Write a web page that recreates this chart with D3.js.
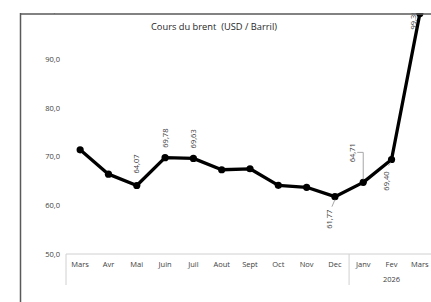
<!DOCTYPE html>
<html>
<head>
<meta charset="utf-8">
<script src="https://cdn.jsdelivr.net/npm/d3@7"></script>
<style>
  body { margin: 0; background: #fff; }
  svg { display: block; font-family: "Open Sans", sans-serif; }
</style>
</head>
<body>
<div id="chart"></div>
<script>
const months = ["Mars", "Avr", "Mai", "Juin", "Juil", "Aout", "Sept", "Oct", "Nov", "Dec", "Janv", "Fev", "Mars"];
const prices = [71.4, 66.4, 64.07, 69.78, 69.63, 67.3, 67.5, 64.1, 63.7, 61.77, 64.71, 69.40, 99.36];
const pointLabels = ["", "", "64,07", "69,78", "69,63", "", "", "", "", "61,77", "64,71", "69,40", "99,36"];
const yTicks = [50, 60, 70, 80, 90, 100];
const yearLabel = "2026";
const yearStart = 10;

const W = 431, H = 302;
const svg = d3.select("#chart").append("svg")
  .attr("width", W).attr("height", H);

svg.append("defs").append("clipPath").attr("id", "clip")
  .append("rect").attr("x", 21).attr("y", 13).attr("width", W).attr("height", H);

const g = svg.append("g").attr("clip-path", "url(#clip)");

const x = d3.scaleBand().domain(d3.range(months.length)).range([66, 434]);
const y = d3.scaleLinear().domain([50, 100]).range([254, 10.5]);
const cx = i => x(i) + x.bandwidth() / 2;

// y tick labels
g.selectAll(".ytick").data(yTicks).enter().append("text")
  .attr("x", 60).attr("y", d => y(d)).attr("dy", "0.35em")
  .attr("text-anchor", "end")
  .style("font-size", "7.5px").style("fill", "#404040")
  .text(d => d.toFixed(1).replace(".", ","));

// x axis
g.append("line").attr("x1", 66).attr("x2", W).attr("y1", y(50)).attr("y2", y(50))
  .attr("stroke", "#d0d0d0").attr("stroke-width", 1);
[0, yearStart].forEach(i => {
  g.append("line").attr("x1", x(i)).attr("x2", x(i)).attr("y1", y(50)).attr("y2", 285)
    .attr("stroke", "#d0d0d0").attr("stroke-width", 1);
});
g.selectAll(".xtick").data(months).enter().append("text")
  .attr("x", (d, i) => cx(i)).attr("y", 267)
  .attr("text-anchor", "middle")
  .style("font-size", "7.5px").style("fill", "#404040")
  .text(d => d);
g.append("text")
  .attr("x", cx(11)).attr("y", 282)
  .attr("text-anchor", "middle")
  .style("font-size", "7.5px").style("fill", "#404040")
  .text(yearLabel);

// title
g.append("text").attr("x", 214).attr("y", 30).attr("text-anchor", "middle")
  .style("font-size", "9.3px").style("fill", "#262626")
  .text("Cours du brent \u00a0(USD / Barril)");

// line
const line = d3.line().x((d, i) => cx(i)).y(d => y(d));
g.append("path").datum(prices).attr("d", line)
  .attr("fill", "none").attr("stroke", "#000").attr("stroke-width", 3.3)
  .attr("stroke-linejoin", "round");
g.selectAll(".pt").data(prices).enter().append("circle")
  .attr("cx", (d, i) => cx(i)).attr("cy", d => y(d)).attr("r", 3.6)
  .attr("fill", "#000");

// value labels (rotated)
const above = { 2: 12, 3: 10, 4: 10 };
const below = { 9: 13, 11: 12 };
pointLabels.forEach((t, i) => {
  if (!t) return;
  let px = cx(i), py = y(prices[i]), anchor, ly;
  if (i === 10) {
    px = cx(i) - 11; ly = y(64.71) - 20; anchor = "start";
  } else if (i === 12) {
    px = cx(i) - 6; ly = py + 16; anchor = "start";
  } else if (i in above) {
    ly = py - above[i]; anchor = "start";
  } else {
    ly = py + below[i]; anchor = "end";
    px = cx(i) - 5;
  }
  g.append("text")
    .attr("transform", `translate(${px + 2.5},${ly}) rotate(-90)`)
    .attr("text-anchor", anchor)
    .style("font-size", "7.5px").style("fill", "#404040")
    .text(t);
});

// leader lines
const lead = "#a6a6a6";
g.append("path")
  .attr("d", `M${cx(10) - 6},${y(64.71) - 30} H${cx(10)} V${y(64.71) - 3}`)
  .attr("fill", "none").attr("stroke", lead).attr("stroke-width", 1);
g.append("line")
  .attr("x1", cx(9) - 3).attr("y1", y(61.77) + 10).attr("x2", cx(9)).attr("y2", y(61.77) + 3)
  .attr("stroke", lead).attr("stroke-width", 1);
g.append("line")
  .attr("x1", cx(11) - 3).attr("y1", y(69.40) + 6).attr("x2", cx(11) - 1).attr("y2", y(69.40) + 3)
  .attr("stroke", lead).attr("stroke-width", 1);

// frame borders
svg.append("line").attr("x1", 20.5).attr("x2", 20.5).attr("y1", 13).attr("y2", H)
  .attr("stroke", "#595959").attr("stroke-width", 1.5);
svg.append("line").attr("x1", 20).attr("x2", W).attr("y1", 14).attr("y2", 14)
  .attr("stroke", "#595959").attr("stroke-width", 1.5);
</script>
</body>
</html>
